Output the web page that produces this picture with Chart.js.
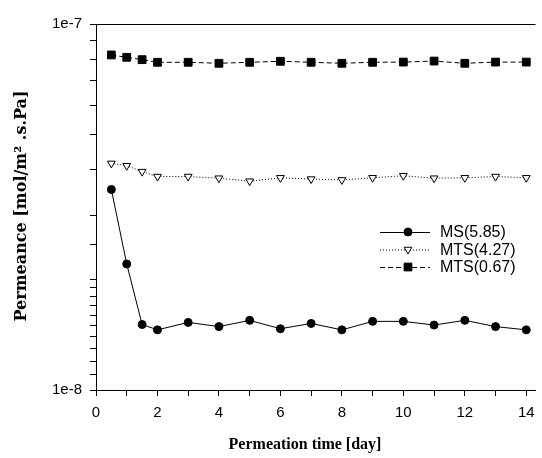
<!DOCTYPE html>
<html>
<head>
<meta charset="utf-8">
<script src="https://cdn.jsdelivr.net/npm/chart.js@4/dist/chart.umd.min.js"></script>
<style>
  html, body { margin: 0; padding: 0; background: #fff; }
  #wrap { width: 542px; height: 458px; position: relative; }
</style>
</head>
<body>
<div id="wrap"><canvas id="permChart"></canvas></div>
<script>
// --- data: permeance vs. permeation time ---
const days = [0.5, 1, 1.5, 2, 3, 4, 5, 6, 7, 8, 9, 10, 11, 12, 13, 14];

const seriesLabels = ['MS(5.85)', 'MTS(4.27)', 'MTS(0.67)'];

const msValues = [3.53e-8, 2.21e-8, 1.51e-8, 1.46e-8, 1.53e-8, 1.49e-8, 1.55e-8, 1.47e-8,
                  1.52e-8, 1.46e-8, 1.54e-8, 1.54e-8, 1.505e-8, 1.55e-8, 1.49e-8, 1.46e-8];

const mts427Values = [4.16e-8, 4.10e-8, 3.95e-8, 3.83e-8, 3.83e-8, 3.79e-8, 3.72e-8, 3.80e-8,
                      3.77e-8, 3.75e-8, 3.80e-8, 3.85e-8, 3.79e-8, 3.80e-8, 3.83e-8, 3.80e-8];

const mts067Values = [8.23e-8, 8.11e-8, 7.99e-8, 7.86e-8, 7.86e-8, 7.81e-8, 7.86e-8, 7.91e-8,
                      7.86e-8, 7.81e-8, 7.86e-8, 7.87e-8, 7.92e-8, 7.81e-8, 7.87e-8, 7.87e-8];

const xTickLabels = ['0', '2', '4', '6', '8', '10', '12', '14'];
const yTickLabels = ['1e-8', '1e-7'];

const xTitle = 'Permeation time [day]';
const yTitle = 'Permeance [mol/m\u00B2 .s.Pa]';

const tickFont = { family: "'Liberation Sans', Arial, sans-serif", size: 15 };

const toPoints = (vals) => vals.map((v, i) => ({ x: days[i], y: v }));

// top frame line (no right frame)
const topLine = {
    id: 'topLine',
    afterDraw(chart) {
        const { ctx, chartArea } = chart;
        ctx.save();
        ctx.strokeStyle = '#000';
        ctx.lineWidth = 1;
        ctx.beginPath();
        ctx.moveTo(chartArea.left, chartArea.top + 0.5);
        ctx.lineTo(chartArea.right, chartArea.top + 0.5);
        ctx.stroke();
        ctx.restore();
    }
};

// axis titles, placed by hand so the x title sits a bit left of centre
const axisTitles = {
    id: 'axisTitles',
    afterDraw(chart) {
        const { ctx } = chart;
        ctx.save();
        ctx.fillStyle = '#000';
        ctx.textAlign = 'center';
        ctx.textBaseline = 'middle';
        ctx.font = "bold 16px 'Liberation Serif', serif";
        ctx.fillText(xTitle, 305, 445);
        ctx.translate(22, 206);
        ctx.rotate(-Math.PI / 2);
        ctx.font = "bold 16px 'DejaVu Serif', serif";
        ctx.fillText(yTitle, 0, 0);
        ctx.restore();
    }
};

// legend with line sample + marker, drawn inside the plot
const inlineLegend = {
    id: 'inlineLegend',
    afterDraw(chart) {
        const { ctx } = chart;
        const x0 = 380, x1 = 430, xMark = 408, xText = 440;
        const rows = [232, 249.5, 267];
        ctx.save();
        chart.data.datasets.forEach((ds, i) => {
            const y = rows[i];
            ctx.strokeStyle = '#000';
            ctx.lineWidth = 1;
            ctx.setLineDash(ds.borderDash || []);
            ctx.beginPath();
            ctx.moveTo(x0, y + 0.5);
            ctx.lineTo(x1, y + 0.5);
            ctx.stroke();
            ctx.setLineDash([]);
            ctx.fillStyle = ds.pointBackgroundColor;
            ctx.strokeStyle = '#000';
            Chart.helpers.drawPoint(ctx, {
                pointStyle: ds.pointStyle,
                radius: ds.pointRadius,
                rotation: ds.pointRotation || 0,
                borderWidth: 1
            }, xMark, y);
            ctx.fillStyle = '#000';
            ctx.font = "16px 'Liberation Sans', Arial, sans-serif";
            ctx.textBaseline = 'middle';
            ctx.fillText(ds.label, xText, y + 1);
        });
        ctx.restore();
    }
};

new Chart(document.getElementById('permChart'), {
    type: 'line',
    data: {
        datasets: [
            {
                label: seriesLabels[0],
                data: toPoints(msValues),
                borderColor: '#000',
                borderWidth: 1,
                pointStyle: 'circle',
                pointRadius: 4,
                pointBackgroundColor: '#000',
                pointBorderColor: '#000'
            },
            {
                label: seriesLabels[1],
                data: toPoints(mts427Values),
                borderColor: '#000',
                borderWidth: 1,
                borderDash: [1, 2],
                pointStyle: 'triangle',
                pointRotation: 180,
                pointRadius: 4.5,
                pointBackgroundColor: '#fff',
                pointBorderColor: '#000'
            },
            {
                label: seriesLabels[2],
                data: toPoints(mts067Values),
                borderColor: '#000',
                borderWidth: 1,
                borderDash: [5, 3],
                pointStyle: 'rect',
                pointRadius: 5.5,
                pointBackgroundColor: '#000',
                pointBorderColor: '#000'
            }
        ]
    },
    options: {
        responsive: true,
        maintainAspectRatio: false,
        animation: false,
        layout: { padding: { top: 24, right: 0, left: 0, bottom: 0 } },
        plugins: {
            legend: { display: false },
            tooltip: { enabled: false }
        },
        scales: {
            x: {
                type: 'linear',
                min: 0,
                max: 14.3,
                grid: { display: true, drawOnChartArea: false, color: '#000', tickLength: 6 },
                border: { display: true, color: '#000', width: 1 },
                ticks: {
                    stepSize: 1,
                    includeBounds: false,
                    maxRotation: 0,
                    autoSkip: false,
                    color: '#000',
                    font: tickFont,
                    padding: 8,
                    callback: (v) => xTickLabels.includes(String(v)) ? String(v) : ''
                },
                afterFit: (scale) => {
                    scale.height = 68;
                    scale.paddingLeft = 0;
                    scale.paddingRight = 0;
                }
            },
            y: {
                type: 'logarithmic',
                min: 1e-8,
                max: 1e-7,
                grid: { display: true, drawOnChartArea: false, color: '#000', tickLength: 6 },
                border: { display: true, color: '#000', width: 1 },
                ticks: {
                    autoSkip: false,
                    color: '#000',
                    font: tickFont,
                    padding: 8,
                    callback: (v) => {
                        const e = Math.log10(v);
                        if (Math.abs(e - Math.round(e)) > 1e-6) return '';
                        const lbl = '1e' + Math.round(e);
                        return yTickLabels.includes(lbl) ? lbl : '';
                    }
                },
                afterFit: (scale) => {
                    scale.width = 96;
                    scale.paddingTop = 0;
                    scale.paddingBottom = 0;
                }
            }
        }
    },
    plugins: [topLine, axisTitles, inlineLegend]
});
</script>
</body>
</html>
